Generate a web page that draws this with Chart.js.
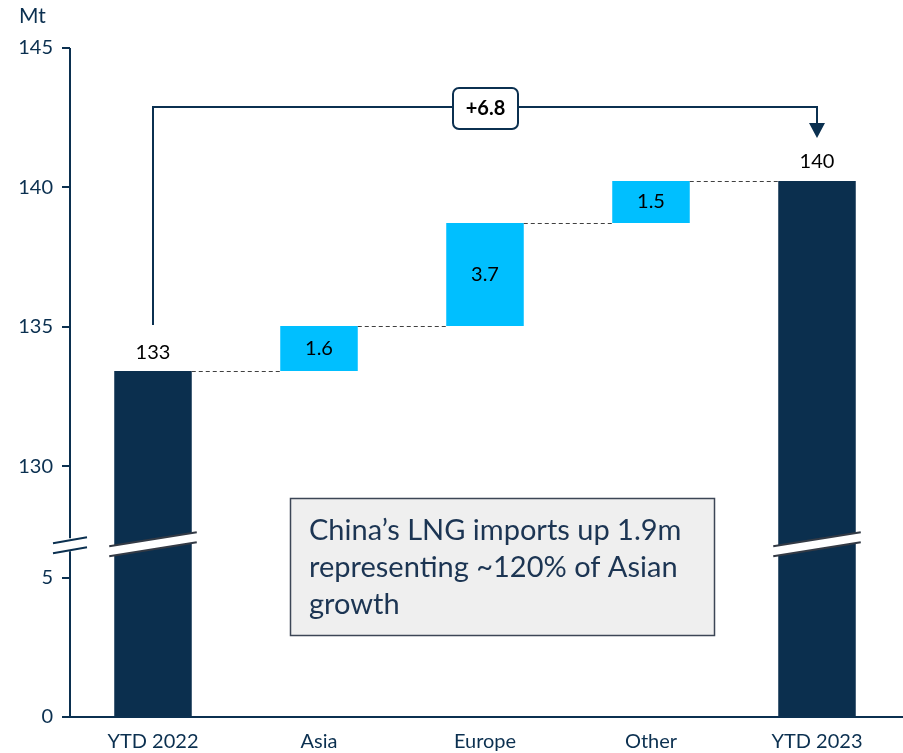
<!DOCTYPE html>
<html>
<head>
<meta charset="utf-8">
<script src="https://cdn.jsdelivr.net/npm/chart.js@4"></script>
<style>
  html, body { margin: 0; padding: 0; background: #fff; }
  #wrap { width: 903px; height: 753px; position: relative; }
</style>
</head>
<body>
<div id="wrap"><canvas id="chart"></canvas></div>
<script>
'use strict';

// waterfall data (Mt)
let categories = ['YTD 2022', 'Asia', 'Europe', 'Other', 'YTD 2023'];
let barStarts = [0, 133.41, 135.03, 138.72, 0];
let barEnds = [133.41, 135.03, 138.72, 140.23, 140.23];
let barLabels = ['133', '1.6', '3.7', '1.5', '140'];
let totalBars = [true, false, false, false, true];
let yTickValues = [0, 5, 130, 135, 140, 145];
let changeLabel = '+6.8';
let noteLines = ['China\u2019s LNG imports up 1.9m', 'representing ~120% of Asian', 'growth'];

const NAVY = '#0B3050';
const CYAN = '#00BFFF';
const FONT = 'Lato, "Open Sans", sans-serif';

// broken axis: values above the break get shifted down
const SHIFT = 121;
const BREAK_AT = 6.2;
function t(v) {
  return v > 20 ? v - SHIFT : v;
}

let canvasElem = document.getElementById('chart');

let extras = {
  id: 'extras',
  afterDatasetsDraw(chart) {
    let ctx = chart.ctx;
    let ys = chart.scales.y;
    let meta = chart.getDatasetMeta(0);

    // dashed connectors
    ctx.save();
    ctx.strokeStyle = '#404040';
    ctx.lineWidth = 1.2;
    ctx.setLineDash([4, 3]);
    for (let i = 0; i < categories.length - 1; i++) {
      let b1 = meta.data[i];
      let b2 = meta.data[i + 1];
      let yy = Math.round(ys.getPixelForValue(t(barEnds[i]))) + 0.5;
      ctx.beginPath();
      ctx.moveTo(b1.x + b1.width / 2, yy);
      ctx.lineTo(b2.x - b2.width / 2, yy);
      ctx.stroke();
    }
    ctx.restore();

    // break bands on total bars
    let by = ys.getPixelForValue(BREAK_AT);
    for (let i = 0; i < categories.length; i++) {
      if (!totalBars[i]) continue;
      let b = meta.data[i];
      let x1 = b.x - b.width / 2 - 5;
      let x2 = b.x + b.width / 2 + 5;
      let slope = -14;
      ctx.save();
      ctx.fillStyle = '#fff';
      ctx.beginPath();
      ctx.moveTo(x1, by + 2);
      ctx.lineTo(x2, by + 2 + slope);
      ctx.lineTo(x2, by + 12 + slope);
      ctx.lineTo(x1, by + 12);
      ctx.closePath();
      ctx.fill();
      ctx.strokeStyle = '#333a45';
      ctx.lineWidth = 2;
      ctx.beginPath();
      ctx.moveTo(x1, by + 2);
      ctx.lineTo(x2, by + 2 + slope);
      ctx.moveTo(x1, by + 12);
      ctx.lineTo(x2, by + 12 + slope);
      ctx.stroke();
      ctx.restore();
    }

    // value labels
    ctx.save();
    ctx.font = '20px ' + FONT;
    ctx.fillStyle = '#000';
    ctx.textAlign = 'center';
    ctx.textBaseline = 'middle';
    for (let i = 0; i < categories.length; i++) {
      let b = meta.data[i];
      if (totalBars[i]) {
        ctx.fillText(barLabels[i], b.x, ys.getPixelForValue(t(barEnds[i])) - 19);
      } else {
        let mid = (ys.getPixelForValue(t(barStarts[i])) + ys.getPixelForValue(t(barEnds[i]))) / 2;
        ctx.fillText(barLabels[i], b.x, mid);
      }
    }
    ctx.restore();

    // bracket arrow between totals
    let first = meta.data[0];
    let last = meta.data[categories.length - 1];
    let topY = 107;
    ctx.save();
    ctx.strokeStyle = NAVY;
    ctx.fillStyle = NAVY;
    ctx.lineWidth = 2;
    ctx.beginPath();
    ctx.moveTo(first.x, ys.getPixelForValue(t(barEnds[0])) - 46);
    ctx.lineTo(first.x, topY);
    ctx.lineTo(last.x, topY);
    ctx.lineTo(last.x, 124);
    ctx.stroke();
    ctx.beginPath();
    ctx.moveTo(last.x - 8, 123);
    ctx.lineTo(last.x + 8, 123);
    ctx.lineTo(last.x, 138);
    ctx.closePath();
    ctx.fill();

    // +6.8 box
    let cx = (first.x + last.x) / 2 + 0.5;
    let bw = 65, bh = 41;
    ctx.fillStyle = '#fff';
    ctx.beginPath();
    ctx.roundRect(cx - bw / 2, 88, bw, bh, 6);
    ctx.fill();
    ctx.stroke();
    ctx.fillStyle = '#000';
    ctx.font = 'bold 20px ' + FONT;
    ctx.textAlign = 'center';
    ctx.textBaseline = 'middle';
    ctx.fillText(changeLabel, cx, 109);
    ctx.restore();

    // note box
    ctx.save();
    ctx.fillStyle = '#EFEFEF';
    ctx.strokeStyle = '#3C4656';
    ctx.lineWidth = 1.5;
    ctx.fillRect(290.5, 498.5, 424, 137);
    ctx.strokeRect(290.5, 498.5, 424, 137);
    ctx.fillStyle = '#1C3553';
    ctx.font = '29px ' + FONT;
    ctx.textAlign = 'left';
    ctx.textBaseline = 'middle';
    for (let i = 0; i < noteLines.length; i++) {
      ctx.fillText(noteLines[i], 309, 531 + i * 37);
    }
    ctx.restore();
  },
  afterDraw(chart) {
    let ctx = chart.ctx;
    let area = chart.chartArea;
    let ys = chart.scales.y;
    let by = ys.getPixelForValue(BREAK_AT);
    ctx.save();
    ctx.strokeStyle = NAVY;
    ctx.lineWidth = 2;
    // y axis with gap
    ctx.beginPath();
    ctx.moveTo(area.left, area.top);
    ctx.lineTo(area.left, by - 6);
    ctx.moveTo(area.left, by + 7);
    ctx.lineTo(area.left, area.bottom);
    ctx.stroke();
    // break marks
    ctx.beginPath();
    ctx.moveTo(area.left - 17, by - 1);
    ctx.lineTo(area.left + 17, by - 7);
    ctx.moveTo(area.left - 17, by + 9);
    ctx.lineTo(area.left + 17, by + 3);
    ctx.stroke();
    // x axis
    ctx.beginPath();
    ctx.moveTo(area.left, area.bottom);
    ctx.lineTo(903, area.bottom);
    ctx.stroke();
    // unit label
    ctx.fillStyle = NAVY;
    ctx.font = '21px ' + FONT;
    ctx.textAlign = 'left';
    ctx.textBaseline = 'middle';
    ctx.fillText('Mt', 19, 16);
    ctx.restore();
  }
};

function renderChart() {
  let barData = [];
  let colors = [];
  for (let i = 0; i < categories.length; i++) {
    barData.push([t(barStarts[i]), t(barEnds[i])]);
    colors.push(totalBars[i] ? '#0B2F4E' : CYAN);
  }

  let chartObj = {
    type: 'bar',
    data: {
      labels: categories,
      datasets: [{
        data: barData,
        backgroundColor: colors,
        borderWidth: 0,
        borderSkipped: false,
        barPercentage: 0.467,
        categoryPercentage: 1
      }]
    },
    options: {
      responsive: true,
      maintainAspectRatio: false,
      animation: false,
      layout: { padding: { top: 48, right: 3, left: 0, bottom: 0 } },
      plugins: {
        legend: { display: false },
        tooltip: { enabled: false }
      },
      scales: {
        x: {
          grid: { display: false },
          border: { display: false },
          ticks: {
            color: NAVY,
            font: { family: FONT, size: 20 },
            padding: 5,
            maxRotation: 0
          },
          afterFit(scale) { scale.height = 36; }
        },
        y: {
          min: 0,
          max: 24,
          afterBuildTicks(scale) {
            scale.ticks = yTickValues.map(v => ({ value: t(v) }));
          },
          grid: {
            drawOnChartArea: false,
            drawTicks: true,
            tickLength: 8,
            color: NAVY,
            lineWidth: 2
          },
          border: { display: false },
          ticks: {
            color: NAVY,
            font: { family: FONT, size: 20 },
            padding: 9,
            callback: function(value) {
              return value > 8 ? String(value + SHIFT) : String(value);
            }
          },
          afterFit(scale) { scale.width = 70; }
        }
      }
    },
    plugins: [extras]
  };
  new Chart(canvasElem, chartObj);
}

renderChart();
</script>
</body>
</html>
